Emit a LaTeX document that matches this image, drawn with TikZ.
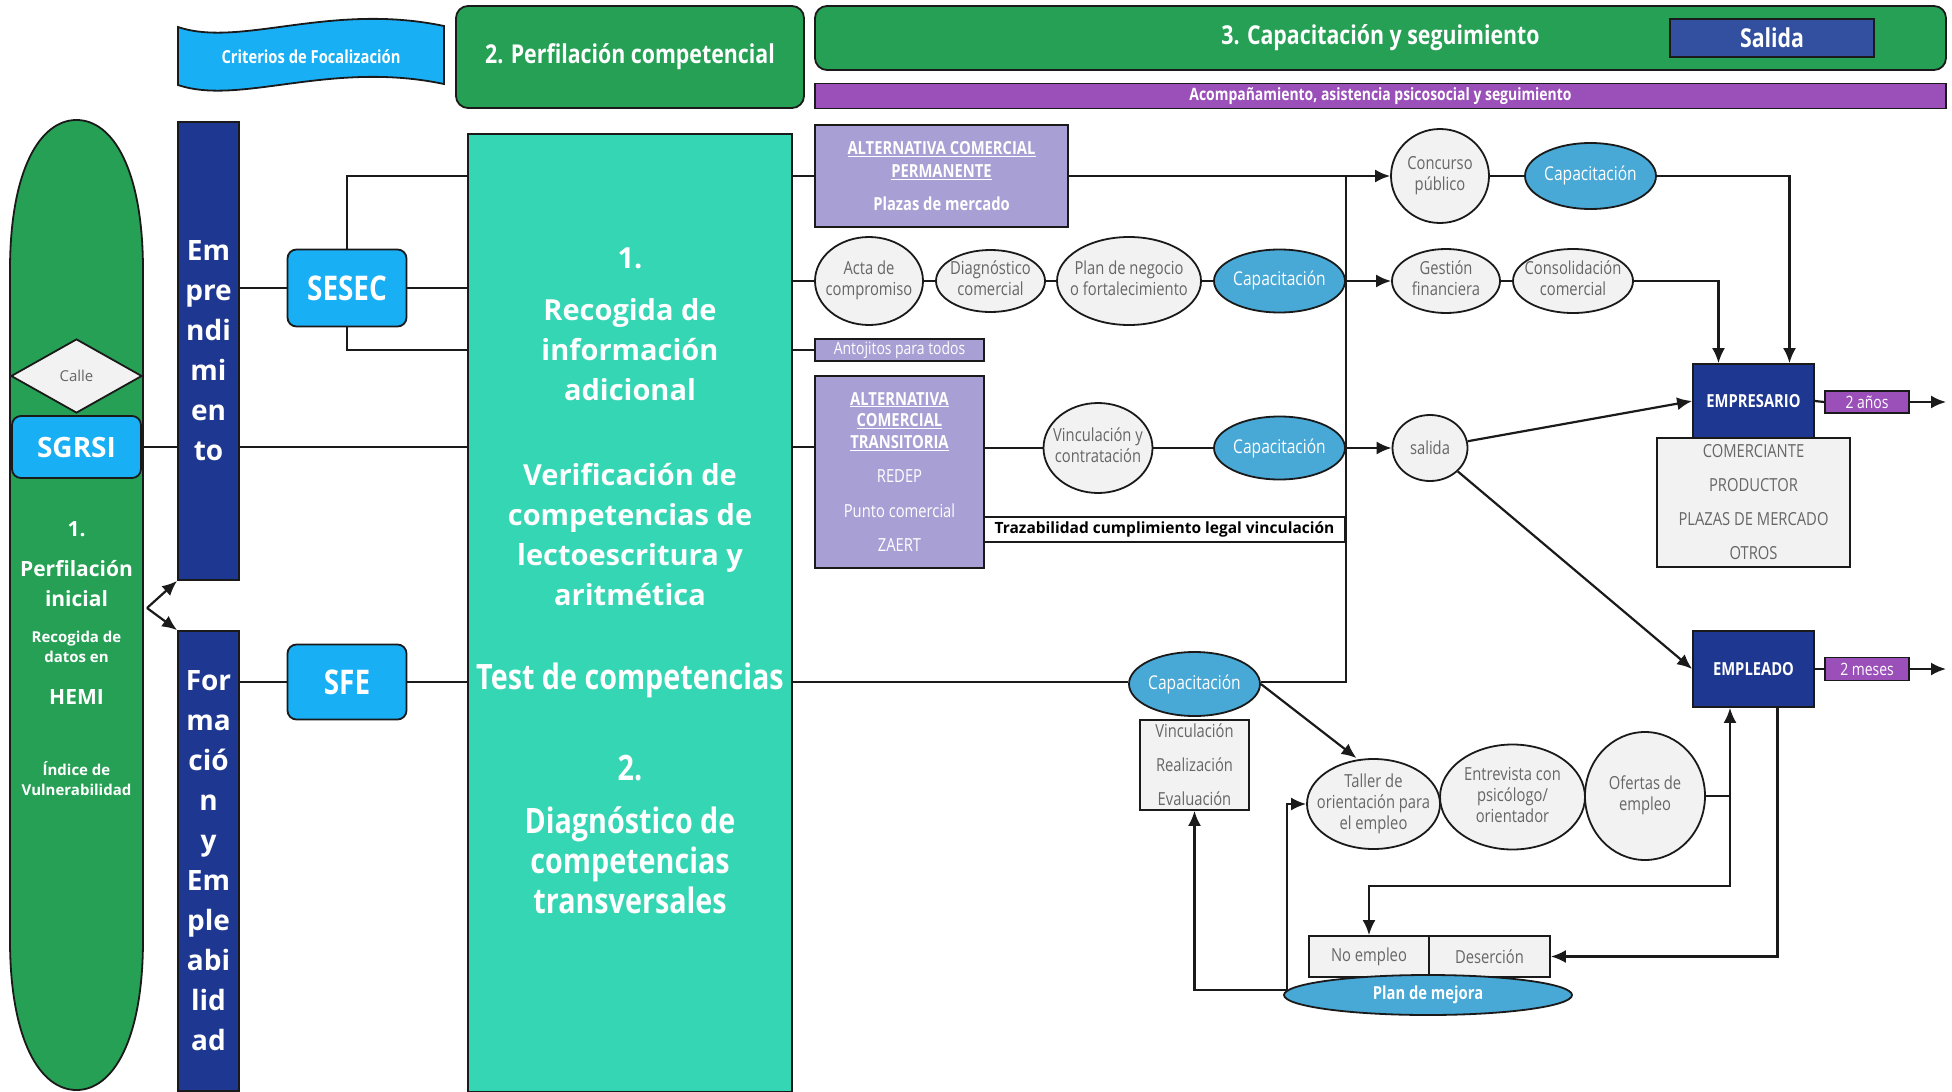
\documentclass[tikz,border=0pt]{standalone}
\usepackage{fontspec}
\setmainfont{Open Sans}
\newfontfamily\condfont{Open Sans}[FakeStretch=0.82]
\usetikzlibrary{arrows.meta,shapes.geometric,backgrounds}

\definecolor{PerfClr}{HTML}{26A054}
\definecolor{TealClr}{HTML}{35D6B4}
\definecolor{NavyClr}{HTML}{1E3791}
\definecolor{SkyClr}{HTML}{19AFF5}
\definecolor{CapClr}{HTML}{48A8D6}
\definecolor{LavClr}{HTML}{A8A0D4}
\definecolor{PurpClr}{HTML}{9B50B9}
\definecolor{SalClr}{HTML}{32509F}
\definecolor{GrayClr}{HTML}{F2F2F2}
\definecolor{GrayTxtClr}{HTML}{666666}
\definecolor{LineClr}{HTML}{1A1A1A}

\newcommand{\fsz}[2]{\fontsize{#1}{#2}\selectfont}
\newcommand{\elltext}[1]{\makebox[0pt]{\begin{tabular}{@{}c@{}}#1\end{tabular}}}

\tikzset{
  box/.style={draw=LineClr,line width=1.8pt,inner sep=0pt,align=center},
  pill/.style={box,fill=SkyClr,rounded corners=9pt,text=white},
  bar/.style={box,fill=NavyClr,text=white,font=\bfseries\fsz{28}{40}},
  grayell/.style={box,ellipse,fill=GrayClr,text=GrayTxtClr,font=\condfont\fsz{18}{21}},
  capell/.style={box,ellipse,fill=CapClr,text=white,font=\condfont\fsz{19}{22}},
  altbox/.style={box,fill=LavClr,text=white},
  tagbox/.style={box,fill=PurpClr,text=white,font=\condfont\fsz{17}{20}},
  exitbox/.style={box,fill=NavyClr,text=white,font=\condfont\bfseries\fsz{18}{22}},
  listbox/.style={box,fill=GrayClr,text=GrayTxtClr,font=\condfont\fsz{18}{34}},
  wtxt/.style={text=white,align=center,inner sep=0pt},
  link/.style={draw=LineClr,line width=2.2pt},
  arr/.style={link,-{Latex[length=15pt,width=13pt]}},
}

\begin{document}
\begin{tikzpicture}[x=1pt,y=-1pt]
\useasboundingbox (0,0) rectangle (1952,1092);

% header
\draw[draw=LineClr,line width=1.8pt,fill=SkyClr] (178,27) .. controls (240,48) and (330,2) .. (444,26) -- (444,84) .. controls (330,60) and (240,106) .. (178,85) -- cycle;
\node[wtxt,font=\condfont\bfseries\fsz{18}{22}] (crit) at (311,57) {Criterios de Focalización};
\node[box,fill=PerfClr,rounded corners=12pt,minimum width=348pt,minimum height=102pt,text=white,font=\condfont\bfseries\fsz{26}{30}] (perf2) at (630,57) {2. Perfilación competencial};
\node[box,fill=PerfClr,rounded corners=12pt,minimum width=1131pt,minimum height=64pt,text=white,font=\condfont\bfseries\fsz{26}{30}] (capseg) at (1380.5,38) {3. Capacitación y seguimiento};
\node[box,fill=SalClr,minimum width=204pt,minimum height=38pt,text=white,font=\condfont\bfseries\fsz{26}{30}] (salidatag) at (1772,38) {Salida};
\node[box,fill=PurpClr,minimum width=1131pt,minimum height=25pt,text=white,font=\condfont\bfseries\fsz{17}{20}] (acomp) at (1380.5,96) {Acompañamiento, asistencia psicosocial y seguimiento};

% 1. perfilacion inicial
\draw[draw=LineClr,line width=1.8pt,fill=PerfClr] (10,270) .. controls (10,170) and (40,120) .. (76.5,120) .. controls (113,120) and (143,170) .. (143,270) -- (143,940) .. controls (143,1040) and (113,1090) .. (76.5,1090) .. controls (40,1090) and (10,1040) .. (10,940) -- cycle;
\node[box,diamond,fill=GrayClr,minimum width=131pt,minimum height=74pt,text=GrayTxtClr,font=\fsz{15}{18}] (calle) at (76.5,376) {Calle};
\node[pill,minimum width=129pt,minimum height=62pt,font=\bfseries\fsz{28}{32}] (sgrsi) at (76.5,447) {SGRSI};
\node[wtxt,font=\bfseries\fsz{21}{30}] (p1num) at (76.5,529) {1.};
\node[wtxt,font=\bfseries\fsz{21}{30}] (p1tit) at (76.5,584) {Perfilación\\inicial};
\node[wtxt,font=\bfseries\fsz{15}{20}] (p1rec) at (76.5,647) {Recogida de\\datos en};
\node[wtxt,font=\bfseries\fsz{21}{26}] (p1hemi) at (76.5,697) {HEMI};
\node[wtxt,font=\bfseries\fsz{15}{20}] (p1ind) at (76.5,779) {Índice de\\Vulnerabilidad};
\coordinate (fork) at (147,608);

% ejes
\node[bar,minimum width=61pt,minimum height=458pt] (empr) at (208.5,351) {Em\\pre\\ndi\\mi\\en\\to};
\node[bar,minimum width=61pt,minimum height=460pt] (formemp) at (208.5,861) {For\\ma\\ció\\n\\y\\Em\\ple\\abi\\lid\\ad};
\node[pill,minimum width=119pt,minimum height=77pt,font=\condfont\bfseries\fsz{34}{38}] (sesec) at (347,288) {SESEC};
\node[pill,minimum width=119pt,minimum height=75pt,font=\condfont\bfseries\fsz{34}{38}] (sfe) at (347,682) {SFE};

% 2. perfilacion competencial
\node[box,fill=TealClr,minimum width=324pt,minimum height=958pt] (teal) at (630,613) {};
\node[wtxt,font=\bfseries\fsz{29}{40}] (t1) at (630,258) {1.};
\node[wtxt,font=\bfseries\fsz{29}{40}] (t2) at (630,350) {Recogida de\\información\\adicional};
\node[wtxt,font=\bfseries\fsz{29}{40}] (t3) at (630,535) {Verificación de\\competencias de\\lectoescritura y\\aritmética};
\node[wtxt,font=\condfont\bfseries\fsz{35}{40}] (t4) at (630,680) {Test de competencias};
\node[wtxt,font=\condfont\bfseries\fsz{35}{40}] (t5) at (630,768) {2.};
\node[wtxt,font=\condfont\bfseries\fsz{35}{40}] (t6) at (630,860) {Diagnóstico de\\competencias\\transversales};

% 3. capacitacion: emprendimiento
\node[altbox,minimum width=253pt,minimum height=102pt,font=\condfont\bfseries\fsz{18}{23}] (acp) at (941.5,176) {\underline{ALTERNATIVA COMERCIAL}\\\underline{PERMANENTE}\\[10pt]Plazas de mercado};
\node[grayell,minimum width=98pt,minimum height=94pt] (concurso) at (1440,176) {\elltext{Concurso\\público}};
\node[capell,minimum width=131pt,minimum height=66pt] (capA) at (1590.5,176) {Capacitación};

\node[grayell,minimum width=108pt,minimum height=88pt] (acta) at (869,281) {\elltext{Acta de\\compromiso}};
\node[grayell,minimum width=109pt,minimum height=62pt] (diag) at (990.5,281) {\elltext{Diagnóstico\\comercial}};
\node[grayell,minimum width=144pt,minimum height=88pt] (plan) at (1129,281) {\elltext{Plan de negocio\\o fortalecimiento}};
\node[capell,minimum width=131pt,minimum height=63pt] (capB) at (1279.5,281) {Capacitación};
\node[grayell,minimum width=108pt,minimum height=64pt] (gest) at (1446,281) {\elltext{Gestión\\financiera}};
\node[grayell,minimum width=120pt,minimum height=64pt] (consol) at (1573,281) {\elltext{Consolidación\\comercial}};

\node[altbox,minimum width=169pt,minimum height=22pt,font=\condfont\fsz{17}{20}] (antoj) at (899.5,350) {Antojitos para todos};
\node[altbox,minimum width=169pt,minimum height=192pt,font=\condfont\fsz{18}{21.5}] (act) at (899.5,472) {{\bfseries\underline{ALTERNATIVA}}\\{\bfseries\underline{COMERCIAL}}\\{\bfseries\underline{TRANSITORIA}}\\[13pt]REDEP\\[13pt]Punto comercial\\[13pt]ZAERT};
\node[grayell,minimum width=109pt,minimum height=90pt] (vinc) at (1098,448) {\elltext{Vinculación y\\contratación}};
\node[capell,minimum width=131pt,minimum height=63pt] (capC) at (1279.5,448) {Capacitación};
\node[grayell,minimum width=75pt,minimum height=66pt] (salidacirc) at (1430,448) {salida};
\node[box,fill=white,minimum width=361pt,minimum height=25pt,font=\bfseries\fsz{15.5}{18}] (traz) at (1164.5,529.5) {Trazabilidad cumplimiento legal vinculación};

% salidas
\node[exitbox,minimum width=121pt,minimum height=74pt] (empres) at (1753.5,401) {EMPRESARIO};
\node[tagbox,minimum width=84pt,minimum height=22pt] (anos) at (1867,402) {2 años};
\node[listbox,minimum width=193pt,minimum height=129pt] (oficios) at (1753.5,502.5) {COMERCIANTE\\PRODUCTOR\\PLAZAS DE MERCADO\\OTROS};
\node[exitbox,minimum width=121pt,minimum height=76pt] (emplead) at (1753.5,669) {EMPLEADO};
\node[tagbox,minimum width=84pt,minimum height=23pt] (meses) at (1867,669) {2 meses};
\coordinate (outA) at (1946,402);
\coordinate (outB) at (1946,669);

% 3. capacitacion: empleabilidad
\node[capell,minimum width=131pt,minimum height=64pt] (capD) at (1194.5,684) {Capacitación};
\node[listbox,minimum width=109pt,minimum height=90pt] (vre) at (1194.5,765) {Vinculación\\Realización\\Evaluación};
\node[grayell,minimum width=133pt,minimum height=90pt] (taller) at (1373.5,804) {\elltext{Taller de\\orientación para\\el empleo}};
\node[grayell,minimum width=145pt,minimum height=105pt] (entrev) at (1512.5,797) {\elltext{Entrevista con\\psicólogo/\\orientador}};
\node[grayell,minimum width=120pt,minimum height=128pt] (ofertas) at (1645,796) {\elltext{Ofertas de\\empleo}};
\node[box,fill=GrayClr,minimum width=120pt,minimum height=41pt,text=GrayTxtClr,font=\condfont\fsz{18}{22}] (noemp) at (1369,956.5) {No empleo};
\node[box,fill=GrayClr,minimum width=121pt,minimum height=41pt,text=GrayTxtClr,font=\condfont\fsz{18}{22}] (deser) at (1489.5,956.5) {Deserción};
\node[capell,minimum width=288pt,minimum height=40pt,font=\condfont\bfseries\fsz{18}{22}] (planmej) at (1428,995) {Plan de mejora};
\coordinate (jn) at (1730,797);
\coordinate (turnY) at (0,886);
\coordinate (pmL) at (1287,990);

\begin{scope}[on background layer]
% izquierda
\draw[arr] (fork) -- (empr.south west);
\draw[arr] (fork) -- (formemp.north west);
\draw[link] (sgrsi.east) -- (sgrsi.east -| teal.west);
\draw[link] (empr.east |- sesec.west) -- (sesec.west);
\draw[link] (formemp.east |- sfe.west) -- (sfe.west);
\draw[link] (sesec.east) -- (sesec.east -| teal.west);
\draw[link] (sesec.north) |- (teal.west |- acp.west);
\draw[link] (sesec.south) |- (teal.west |- antoj.west);
\draw[link] (sfe.east) -- (sfe.east -| teal.west);
% salida de la perfilacion
\draw[link] (teal.east |- acp.west) -- (acp.west);
\draw[link] (teal.east |- acta.west) -- (acta.west);
\draw[link] (teal.east |- antoj.west) -- (antoj.west);
\draw[link] (teal.east |- sgrsi.east) -- (act.west |- sgrsi.east);
\draw[link] (teal.east |- sfe.east) -- (capD.west |- sfe.east);
% filas
\draw[link] (acta) -- (diag) -- (plan) -- (capB);
\draw[link] (act.east |- vinc.west) -- (vinc) -- (capC);
\draw[link] (capD.east |- sfe.east) -| (capB.east |- acp.east);
\draw[arr] (acp.east) -- (concurso.west);
\draw[link] (concurso) -- (capA);
\draw[arr] (capA.east) -| ([xshift=36pt]empres.north);
\draw[arr] (capB.east) -- (gest.west);
\draw[link] (gest) -- (consol);
\draw[arr] (consol.east) -| ([xshift=-35pt]empres.north);
\draw[arr] (capC.east) -- (salidacirc.west);
\draw[arr] (salidacirc) -- (empres.west);
\draw[arr] (salidacirc) -- (emplead.west);
\draw[link] (empres.east) -- (anos.west);
\draw[arr] (anos.east) -- (outA);
\draw[link] (emplead.east) -- (meses.west);
\draw[arr] (meses.east) -- (outB);
% empleabilidad
\draw[arr] (capD.east) -- ([xshift=-17pt]taller.north);
\draw[arr] (ofertas.east) -| (jn |- emplead.south);
\draw[arr] (jn) -- (jn |- turnY) -| (noemp.north);
\draw[arr] ([xshift=24pt]emplead.south) |- (deser.east);
\draw[arr] (pmL) |- (taller.west);
\draw[arr] (pmL) -| (vre.south);
\end{scope}
\end{tikzpicture}
\end{document}
